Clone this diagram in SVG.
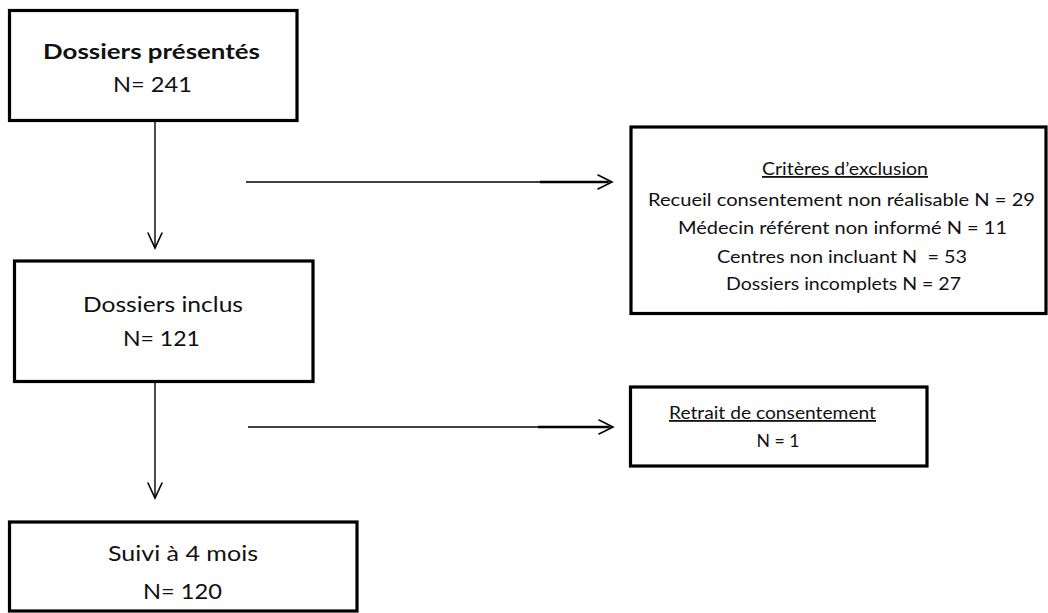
<svg xmlns="http://www.w3.org/2000/svg" width="1048" height="613" viewBox="0 0 1048 613">
  <style>
    .box { fill: #ffffff; stroke: #000000; stroke-width: 3.2; }
    .t { font-family: Lato, "Open Sans", "Liberation Sans", sans-serif; fill: #111111; text-anchor: middle; }
    .big { font-size: 21px; }
    .bold { font-weight: bold; }
    .small { font-size: 18px; }
    .u { text-decoration: underline; }
    .ln { stroke: #000000; stroke-width: 1.4; fill: none; }
    .thick { stroke: #000000; stroke-width: 2.6; fill: none; }
    .head { stroke: #000000; stroke-width: 1.6; fill: none; stroke-linecap: round; stroke-linejoin: miter; }
  </style>
  <rect width="1048" height="613" fill="#ffffff"/>

  <g id="connectors">
    <line class="ln" x1="155" y1="122" x2="155" y2="248"/>
    <polyline class="head" points="148,233 155,248 162,233"/>
    <line class="ln" x1="155" y1="383" x2="155" y2="498"/>
    <polyline class="head" points="148,483 155,498 162,483"/>
    <line class="ln" x1="246" y1="182" x2="611" y2="182"/>
    <line class="thick" x1="540" y1="182" x2="608" y2="182"/>
    <polyline class="head" points="598,175 612,182 598,189"/>
    <line class="ln" x1="248" y1="427" x2="612" y2="427"/>
    <line class="thick" x1="538" y1="427" x2="609" y2="427"/>
    <polyline class="head" points="599,420 613,427 599,434"/>
  </g>

  <g id="node-presentes">
    <rect class="box" x="9.5" y="10.5" width="287.5" height="110"/>
    <text class="t big bold" x="151.5" y="59" textLength="217" lengthAdjust="spacingAndGlyphs">Dossiers présentés</text>
    <text class="t big" x="152.5" y="92" textLength="79" lengthAdjust="spacingAndGlyphs">N= 241</text>
  </g>

  <g id="node-inclus">
    <rect class="box" x="14.5" y="261" width="298.5" height="120.5"/>
    <text class="t big" x="163" y="312" textLength="160" lengthAdjust="spacingAndGlyphs">Dossiers inclus</text>
    <text class="t big" x="161.5" y="346" textLength="77" lengthAdjust="spacingAndGlyphs">N= 121</text>
  </g>

  <g id="node-suivi">
    <rect class="box" x="9.5" y="522" width="347.5" height="89"/>
    <text class="t big" x="183" y="561" textLength="150" lengthAdjust="spacingAndGlyphs">Suivi à 4 mois</text>
    <text class="t big" x="182.5" y="599" textLength="79" lengthAdjust="spacingAndGlyphs">N= 120</text>
  </g>

  <g id="node-exclusion">
    <rect class="box" x="631" y="127" width="415" height="186.5"/>
    <text class="t small u" x="845" y="175" textLength="166" lengthAdjust="spacingAndGlyphs">Critères d’exclusion</text>
    <text class="t small" x="841.5" y="206" textLength="387" lengthAdjust="spacingAndGlyphs">Recueil consentement non réalisable N = 29</text>
    <text class="t small" x="842.5" y="234" textLength="329" lengthAdjust="spacingAndGlyphs">Médecin référent non informé N = 11</text>
    <text class="t small" x="842" y="263" textLength="250" lengthAdjust="spacingAndGlyphs" xml:space="preserve">Centres non incluant N  = 53</text>
    <text class="t small" x="843.5" y="290" textLength="235" lengthAdjust="spacingAndGlyphs">Dossiers incomplets N = 27</text>
  </g>

  <g id="node-retrait">
    <rect class="box" x="630.5" y="387" width="296.5" height="79"/>
    <text class="t small u" x="772.5" y="419" textLength="207" lengthAdjust="spacingAndGlyphs">Retrait de consentement</text>
    <text class="t small" x="778" y="447" textLength="43" lengthAdjust="spacingAndGlyphs">N = 1</text>
  </g>
</svg>
